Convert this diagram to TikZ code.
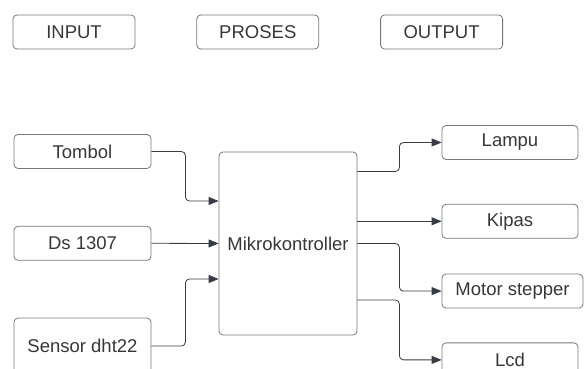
\documentclass[tikz,border=0pt]{standalone}
\usepackage{fontspec}
\setmainfont{Liberation Sans}
\usetikzlibrary{positioning, arrows.meta}
\definecolor{boxframe}{RGB}{120,120,120}
\definecolor{boxtext}{RGB}{55,55,58}
\definecolor{linkcol}{RGB}{55,60,68}

\begin{document}
\begin{tikzpicture}[
        x=1pt, y=1pt,
        node distance=61pt and 61pt,
        box/.style={draw=boxframe, rectangle, rounded corners=4pt, minimum width=122pt, minimum height=34pt, align=center, text=boxtext, font=\fontsize{18.5}{21}\selectfont, line width=0.8pt, inner sep=2pt},
        unit/.style={box, minimum width=137pt},
        ctrl/.style={box, minimum width=138pt, minimum height=183pt},
        arr/.style={-{Triangle[length=10pt,width=8pt]}, draw=linkcol, line width=0.8pt, rounded corners=4pt}
    ]
    \useasboundingbox (0,0) rectangle (584,369);

    % Column headers
    \node[box] (input) at (74,337) {INPUT};
    \node[box] (proses) [right=of input] {PROSES};
    \node[box] (output) [right=of proses] {OUTPUT};

    % Inputs
    \node[unit] (tombol) at (82.5,217.5) {Tombol};
    \node[unit] (ds) [below=57pt of tombol] {Ds 1307};
    \node[unit, minimum height=56pt] (sensor) [below=57pt of ds] {Sensor dht22};

    % Controller
    \node[ctrl] (mikro) at (288,125.5) {Mikrokontroller};

    % Outputs
    \node[unit, minimum width=136pt] (lampu) at (510,226.5) {Lampu};
    \node[unit, minimum width=136pt] (kipas) [below=44pt of lampu] {Kipas};
    \node[unit, minimum width=141pt] (motor) [below right=35pt and 0pt of kipas.south west] {Motor stepper};
    \node[unit, minimum width=136pt] (lcd) [below right=34pt and 0pt of motor.south west] {Lcd};

    % Input links
    \draw[arr] (tombol.east) -- ++(34,0) |- ([yshift=42.5pt]mikro.west);
    \draw[arr] (ds.east) -- (mikro.west);
    \draw[arr] (sensor.east) -- ++(34,0) |- ([yshift=-35.5pt]mikro.west);

    % Output links
    \draw[arr] ([yshift=72pt]mikro.east) -- ++(42,0) |- (lampu.west);
    \draw[arr] (mikro.east |- kipas.west) -- (kipas.west);
    \draw[arr] (mikro.east) -- ++(42,0) |- (motor.west);
    \draw[arr] ([yshift=-56.5pt]mikro.east) -- ++(42,0) |- (lcd.west);

\end{tikzpicture}
\end{document}
